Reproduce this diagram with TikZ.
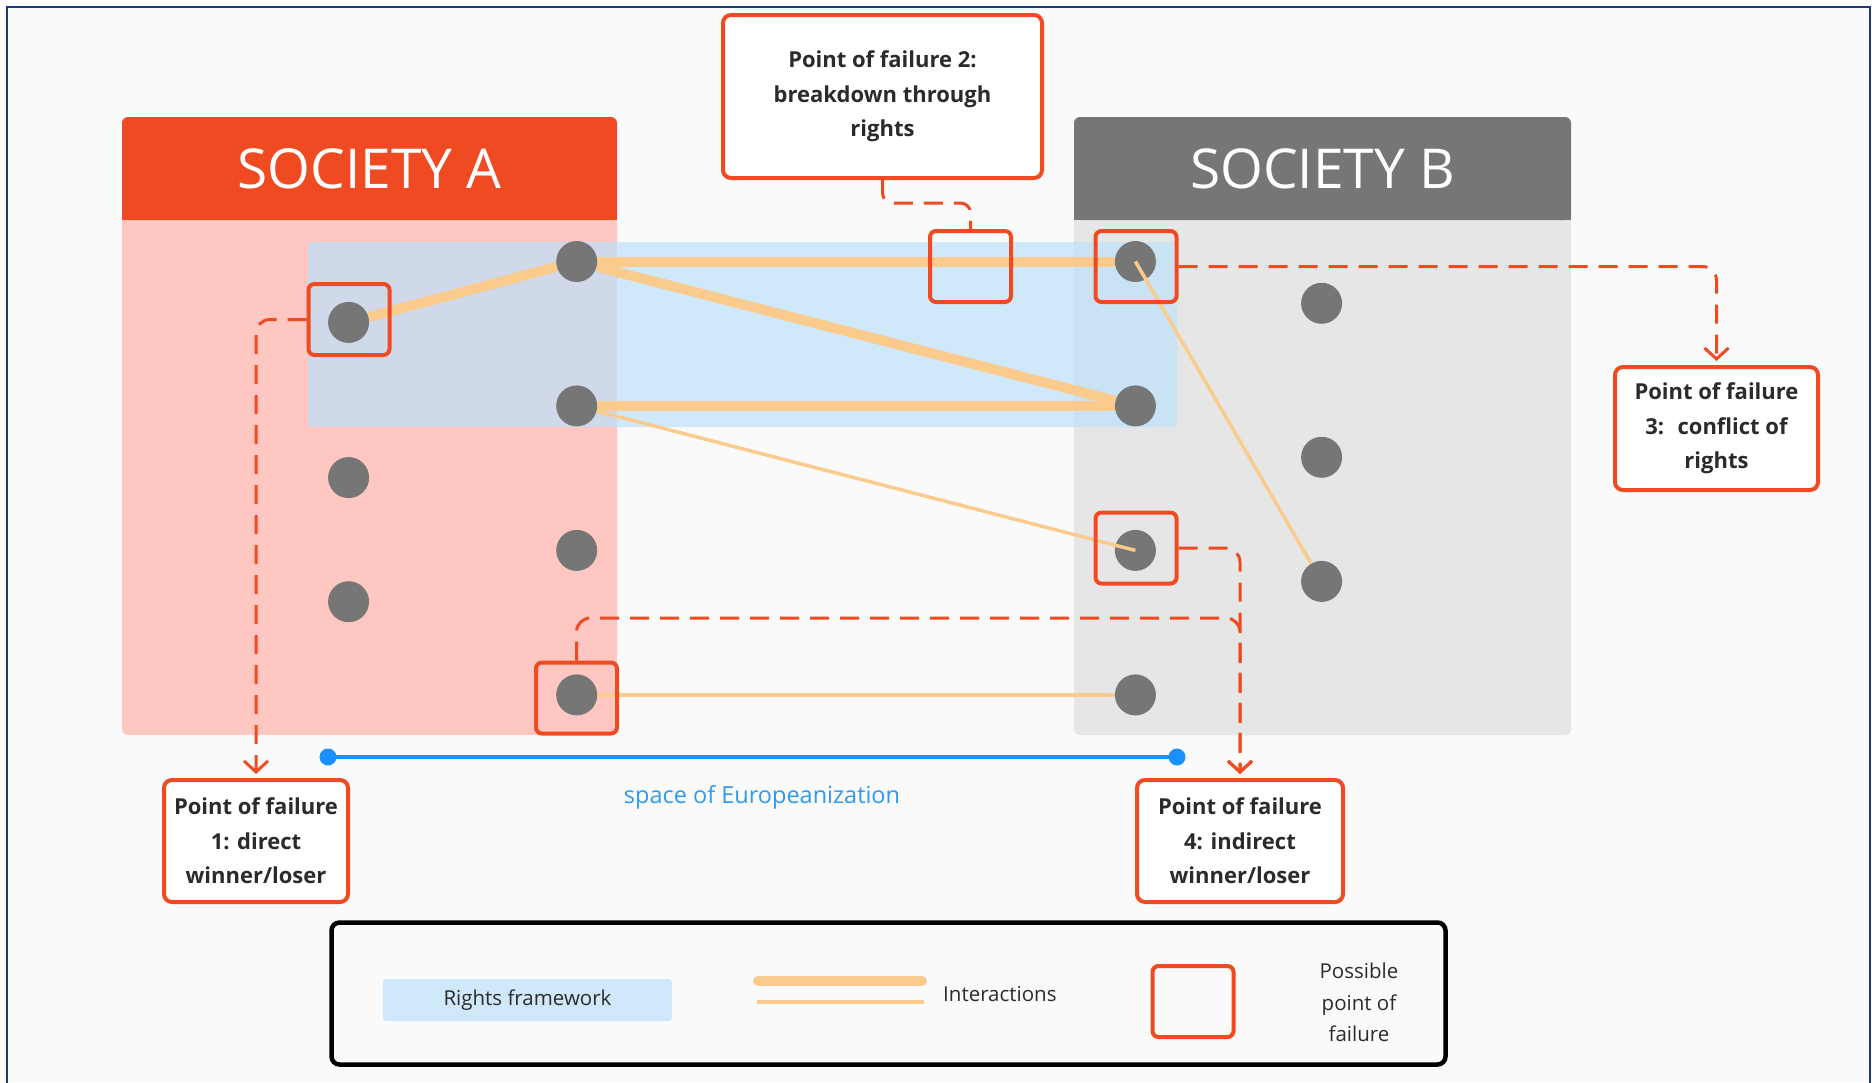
\documentclass[tikz,border=0pt]{standalone}
\usepackage{fontspec}
\setmainfont{Open Sans}
\usetikzlibrary{arrows.meta}
\definecolor{bgc}{HTML}{FAFAFA}
\definecolor{framec}{HTML}{1F3A78}
\definecolor{redA}{HTML}{F04A23}
\definecolor{pinkA}{HTML}{FFC7C2}
\definecolor{grayB}{HTML}{767676}
\definecolor{lightB}{HTML}{E6E6E6}
\definecolor{rightsc}{HTML}{BDE2FA}
\definecolor{rightsleg}{HTML}{CFE8FA}
\definecolor{peach}{HTML}{FBCB8E}
\definecolor{dotc}{HTML}{767676}
\definecolor{txtc}{HTML}{2B2B2B}
\definecolor{eublue}{HTML}{1A8FFF}
\definecolor{eutext}{HTML}{2C9BF0}
\pgfdeclarelayer{bglayer}
\pgfdeclarelayer{linelayer}
\pgfsetlayers{bglayer,linelayer,main}
\tikzset{
  dot/.style={circle, fill=dotc, minimum size=41pt, inner sep=0pt},
  pfbox/.style={draw=redA, line width=4pt, rounded corners=6pt, minimum width=81pt, minimum height=71pt, inner sep=0pt},
  pofbox/.style={draw=redA, line width=4pt, rounded corners=8pt, fill=white, align=center, text=txtc,
     font=\fontsize{22}{34.5}\selectfont\bfseries, inner sep=0pt},
  thickint/.style={draw=peach, line width=10pt},
  thinint/.style={draw=peach, line width=3.5pt},
  dashline/.style={draw=redA, line width=3pt, dash pattern=on 19pt off 11pt, rounded corners=14pt},
  arrowend/.style={-{Straight Barb[length=11pt,width=24pt,line width=3pt]}, shorten >=4pt},
  eudot/.style={circle, fill=eublue, minimum size=17pt, inner sep=0pt},
  headtxt/.style={text=white, font=\fontsize{55}{66}\selectfont},
  legtxt/.style={text=txtc, font=\fontsize{20.5}{31.7}\selectfont, align=center, inner sep=0pt}
}
\begin{document}
\begin{tikzpicture}[x=1pt,y=-1pt]
\useasboundingbox (0,0) rectangle (1872,1082);
\begin{pgfonlayer}{bglayer}
  \fill[white] (0,0) rectangle (1872,1082);
  \fill[bgc] (7,7) rectangle (1870,1082);
  \draw[framec, line width=2pt] (7,1090) -- (7,7) -- (1870,7) -- (1870,1090);
  % societies
  \fill[pinkA, rounded corners=6pt] (122,200) rectangle (617,735);
  \fill[lightB, rounded corners=6pt] (1074,200) rectangle (1571,735);
  \fill[rightsc, fill opacity=0.7, rounded corners=4pt] (308,242) rectangle (1177,427);
  \fill[redA, rounded corners=6pt] (122,117) rectangle (617,220);
  \fill[redA] (122,200) rectangle (617,220);
  \fill[grayB, rounded corners=6pt] (1074,117) rectangle (1571,220);
  \fill[grayB] (1074,200) rectangle (1571,220);
\end{pgfonlayer}
\node[headtxt] (hA) at (369.5,169) {SOCIETY A};
\node[headtxt] (hB) at (1322.5,169) {SOCIETY B};
% dots
\node[dot] (a1) at (348.6,322.4) {};
\node[dot] (a2) at (576.7,261.5) {};
\node[dot] (a3) at (576.7,405.9) {};
\node[dot] (a4) at (348.6,477.6) {};
\node[dot] (a5) at (576.7,550.4) {};
\node[dot] (a6) at (348.6,601.7) {};
\node[dot] (a7) at (576.7,694.9) {};
\node[dot] (b1) at (1135.4,261.5) {};
\node[dot] (b2) at (1135.4,405.9) {};
\node[dot] (b3) at (1321.6,303.3) {};
\node[dot] (b4) at (1321.6,457.3) {};
\node[dot] (b5) at (1135.4,550.4) {};
\node[dot] (b6) at (1321.6,581.4) {};
\node[dot] (b7) at (1135.4,694.9) {};
\begin{pgfonlayer}{linelayer}
  \draw[thickint] (a1) -- (a2);
  \draw[thickint] (a2) -- (b1);
  \draw[thickint] (a2) -- (b2);
  \draw[thickint] (a3) -- (b2);
  \draw[thinint] (a7) -- (b7);
\end{pgfonlayer}
\draw[thinint] (a3) -- (b5.center);
\draw[thinint] (b1.center) -- (b6);
% possible points of failure
\node[pfbox] (a1box) at (349,319.5) {};
\node[pfbox] (midbox) at (970.5,266.5) {};
\node[pfbox] (b1box) at (1136,266.5) {};
\node[pfbox] (b5box) at (1136,548) {};
\node[pfbox] (a7box) at (576.5,698) {};
% europeanization
\node[eudot] (eul) at (328,757) {};
\node[eudot] (eur) at (1177,757) {};
\draw[eublue, line width=3.5pt] (eul.center) -- (eur.center);
\node[text=eutext, font=\fontsize{23.5}{28}\selectfont] (eutxt) at (762,797) {space of Europeanization};
% point of failure boxes
\node[pofbox, minimum width=184pt, minimum height=122pt] (pof1) at (256,841) {Point of failure\\1: direct\\winner/loser};
\node[pofbox, minimum width=319pt, minimum height=163pt] (pof2) at (882.5,96.5) {Point of failure 2:\\breakdown through\\rights};
\node[pofbox, minimum width=203pt, minimum height=123pt] (pof3) at (1716.5,428.5) {Point of failure\\3:~ conflict of\\rights};
\node[pofbox, minimum width=206pt, minimum height=122pt] (pof4) at (1240,841) {Point of failure\\4: indirect\\winner/loser};
% dashed connectors
\coordinate (m2) at (920,203);
\coordinate (m4) at (900,618);
\draw[dashline, arrowend] (a1box.west) -| (pof1.north);
\draw[dashline, rounded corners=10pt] (pof2.south) |- (m2) -| (midbox.north);
\draw[dashline, arrowend] (b1box.east) -| (pof3.north);
\draw[dashline, arrowend] (b5box.east) -| (pof4.north);
\draw[dashline, arrowend] (a7box.north) |- (m4) -| (pof4.north);
% legend
\node[draw=black, line width=4.5pt, rounded corners=8pt, minimum width=1114pt, minimum height=142pt, inner sep=0pt] (legend) at (888.5,993.5) {};
\node[legtxt, fill=rightsleg, rounded corners=3pt, minimum width=289pt, minimum height=42pt] (legrights) at (527.5,1000) {Rights framework};
\coordinate (lt1) at (758,981);
\coordinate (lt2) at (922,981);
\coordinate (ln1) at (757,1002);
\coordinate (ln2) at (924,1002);
\draw[thickint, line cap=round] (lt1) -- (lt2);
\draw[thinint] (ln1) -- (ln2);
\node[legtxt, anchor=west] (legint) at (943,994.5) {Interactions};
\node[pfbox] (legbox) at (1193,1001.5) {};
\node[legtxt] (legpos) at (1359,1002.5) {Possible\\point of\\failure};
\end{tikzpicture}
\end{document}
